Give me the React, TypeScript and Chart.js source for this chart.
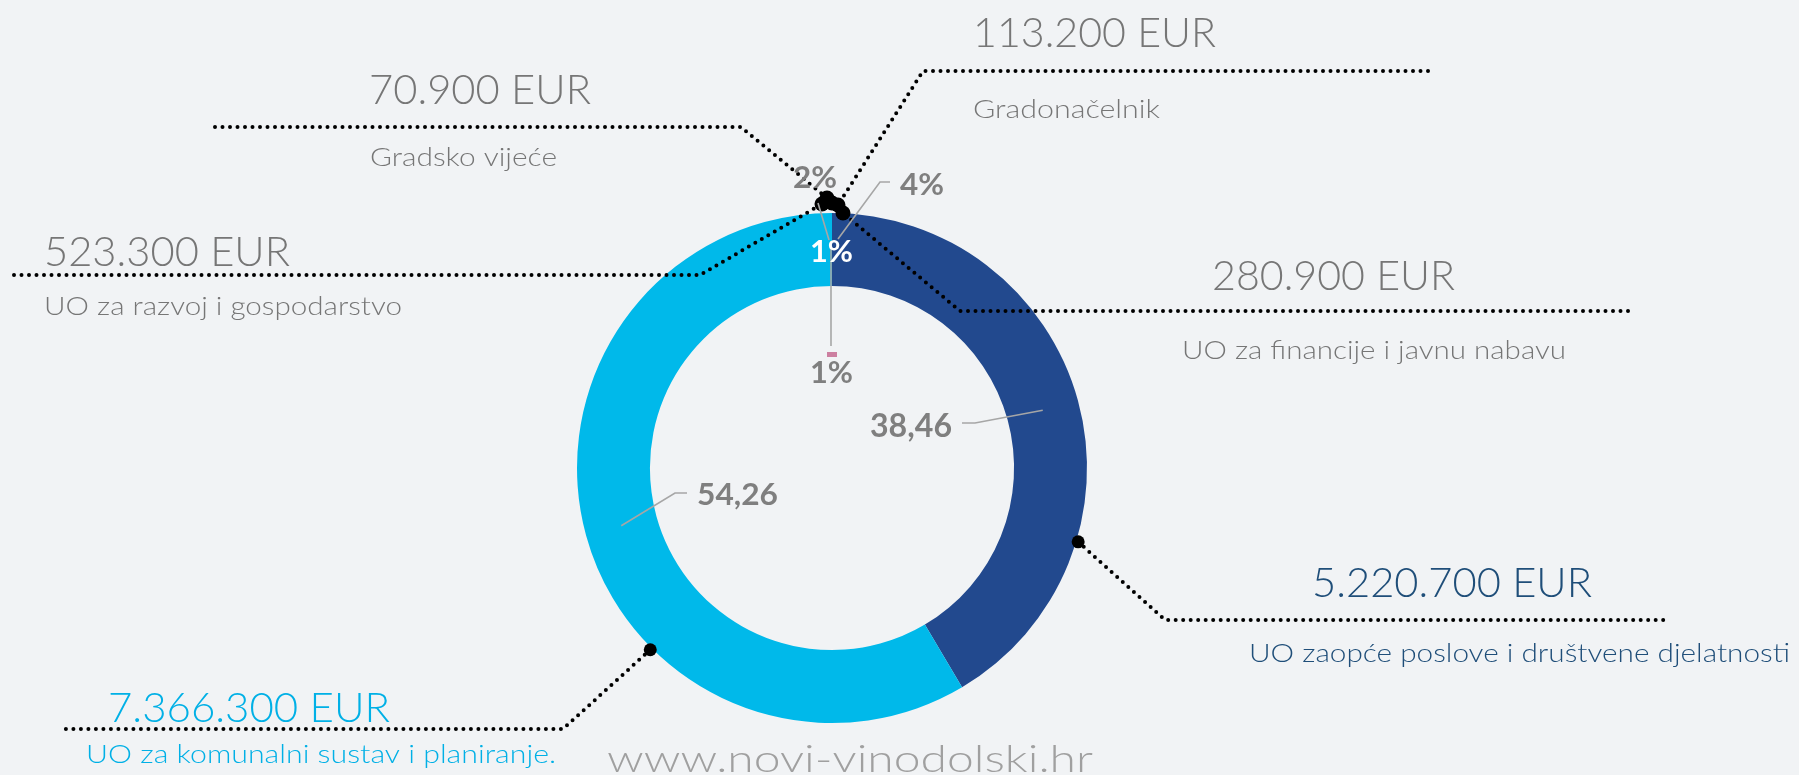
import React, { useEffect, useRef } from 'react';
import { Chart, registerables } from 'chart.js';

Chart.register(...registerables);

// ---------- data ----------
const categories = [
  'UO zaopće poslove i društvene djelatnosti',
  'UO za komunalni sustav i planiranje.',
  'UO za razvoj i gospodarstvo',
  'UO za financije i javnu nabavu',
  'Gradonačelnik',
  'Gradsko vijeće',
];
const amountLabels = [
  '5.220.700 EUR',
  '7.366.300 EUR',
  '523.300 EUR',
  '280.900 EUR',
  '113.200 EUR',
  '70.900 EUR',
];
// values plotted in the ring (the small units appear as zero-width slices at the top)
const ringValues = [38.46, 54.26, 0, 0, 0, 0];
const smallPctLabels = ['', '', '4%', '2%', '1%', '1%'];
const watermark = 'www.novi-vinodolski.hr';

// ---------- styles / layout ----------
const W = 1799;
const H = 775;
const BG = '#f1f3f5';
const sliceColors = ['#22498E', '#00B9EA', '#A5A5A5', '#FFC000', '#5B9BD5', '#CC7FA0'];
const GRAY = '#767676';
const LABEL_GRAY = '#7f7f7f';
const NAVY_TEXT = '#1F4E79';
const CYAN_TEXT = '#00B0E6';
const FONT = 'Lato, "Open Sans", sans-serif';

const RING_BOX = { left: 577, top: 213, size: 510 };

// text boxes: [x, baseline, width]
const amountBoxes = [
  [1312, 597, 280],
  [108, 722, 282],
  [44, 266, 246],
  [1212, 290, 243],
  [973, 47, 243],
  [369, 104, 222],
];
const nameBoxes = [
  [1249, 662, 541],
  [86, 763, 470],
  [44, 315, 358],
  [1182, 359, 384],
  [973, 118, 187],
  [370, 166, 187],
];
const textColors = [NAVY_TEXT, CYAN_TEXT, GRAY, GRAY, GRAY, GRAY];

function fitText(
  ctx: CanvasRenderingContext2D,
  text: string,
  x: number,
  base: number,
  width: number,
  capH: number,
  weight: number,
  color: string,
  refGlyph = 'H'
) {
  ctx.save();
  ctx.font = `${weight} 100px ${FONT}`;
  const m = ctx.measureText(refGlyph);
  const ratio = (m.actualBoundingBoxAscent || 72) / 100;
  const size = capH / ratio;
  ctx.font = `${weight} ${size}px ${FONT}`;
  const w = ctx.measureText(text).width;
  let sx = width / w;
  sx = Math.max(0.75, Math.min(1.3, sx));
  ctx.translate(x, base);
  ctx.scale(sx, 1);
  ctx.fillStyle = color;
  ctx.textBaseline = 'alphabetic';
  ctx.textAlign = 'left';
  ctx.fillText(text, 0, 0);
  ctx.restore();
}

function dotted(ctx: CanvasRenderingContext2D, pts: number[][]) {
  ctx.save();
  ctx.strokeStyle = '#000';
  ctx.lineWidth = 4;
  ctx.lineCap = 'round';
  ctx.lineJoin = 'round';
  ctx.setLineDash([0, 7.5]);
  ctx.beginPath();
  ctx.moveTo(pts[0][0], pts[0][1]);
  for (let i = 1; i < pts.length; i++) ctx.lineTo(pts[i][0], pts[i][1]);
  ctx.stroke();
  ctx.restore();
}

function dot(ctx: CanvasRenderingContext2D, x: number, y: number, r = 6.5) {
  ctx.save();
  ctx.fillStyle = '#000';
  ctx.beginPath();
  ctx.arc(x, y, r, 0, Math.PI * 2);
  ctx.fill();
  ctx.restore();
}

function leader(ctx: CanvasRenderingContext2D, pts: number[][]) {
  ctx.save();
  ctx.strokeStyle = '#a6a6a6';
  ctx.lineWidth = 1.6;
  ctx.beginPath();
  ctx.moveTo(pts[0][0], pts[0][1]);
  for (let i = 1; i < pts.length; i++) ctx.lineTo(pts[i][0], pts[i][1]);
  ctx.stroke();
  ctx.restore();
}

const annotate = {
  id: 'annotate',
  afterDatasetsDraw(chart: any) {
    const ctx: CanvasRenderingContext2D = chart.ctx;
    const meta = chart.getDatasetMeta(0);
    const a0 = meta.data[0] as any;
    const a1 = meta.data[1] as any;
    const cx = a0.x;
    const cy = a0.y;
    const R = a0.outerRadius;
    const onRing = (deg: number, rad: number) => {
      const t = (deg * Math.PI) / 180;
      return [cx + rad * Math.sin(t), cy - rad * Math.cos(t)];
    };

    // black dotted callouts
    const pBlue = onRing(106.7, R + 2);
    const pCyan = onRing(225, R + 2);
    dotted(ctx, [pBlue, [1165, 620], [1668, 620]]);
    dotted(ctx, [pCyan, [563, 729], [60, 729]]);
    const topPaths = [
      [[14, 275], [700, 275], [822, 204]],
      [[1628, 311], [960, 311], [843, 213]],
      [[1428, 71], [923, 71], [838, 205]],
      [[215, 127], [741, 127], [827, 198]],
    ];
    topPaths.forEach((p) => dotted(ctx, p));
    dot(ctx, pBlue[0], pBlue[1]);
    dot(ctx, pCyan[0], pCyan[1]);
    topPaths.forEach((p) => dot(ctx, p[p.length - 1][0], p[p.length - 1][1], 7.5));
    dot(ctx, 832, 203, 7.5);

    // grey data-label leaders
    const c0 = a0.getCenterPoint();
    const c1 = a1.getCenterPoint();
    leader(ctx, [[c1.x, c1.y], [675, 493], [687, 493]]);
    leader(ctx, [[c0.x, c0.y], [975, 423], [962, 423]]);
    leader(ctx, [[818, 203], [829, 240]]);
    leader(ctx, [[890, 182], [880, 182], [838, 239]]);
    leader(ctx, [[831, 241], [831, 346]]);

    // legend key next to lower label
    ctx.fillStyle = sliceColors[5];
    ctx.fillRect(827, 352, 10, 5);

    // data labels (ring values)
    const fmt = (v: number) => v.toFixed(2).replace('.', ',');
    fitText(ctx, fmt(ringValues[0]), 870, 437, 82, 23, 700, LABEL_GRAY);
    fitText(ctx, fmt(ringValues[1]), 697, 505, 81, 22.5, 700, LABEL_GRAY);
    // small slice labels
    fitText(ctx, smallPctLabels[2], 900, 195, 44, 22.5, 700, LABEL_GRAY);
    fitText(ctx, smallPctLabels[3], 793, 188, 44, 22.5, 700, LABEL_GRAY);
    fitText(ctx, smallPctLabels[4], 810, 262, 43, 22.5, 700, '#ffffff');
    fitText(ctx, smallPctLabels[5], 810, 383, 43, 22.5, 700, LABEL_GRAY);

    // amounts & names
    for (let i = 0; i < categories.length; i++) {
      const a = amountBoxes[i];
      fitText(ctx, amountLabels[i], a[0], a[1], a[2], 30, 300, textColors[i]);
      const n = nameBoxes[i];
      fitText(ctx, categories[i], n[0], n[1], n[2], 19, 300, textColors[i]);
    }

    // watermark
    fitText(ctx, watermark, 607, 772, 486, 28, 300, '#a0a0a0', 'l');
  },
};

export default function App() {
  const ref = useRef<HTMLCanvasElement>(null);
  useEffect(() => {
    document.body.style.margin = '0';
    document.body.style.background = BG;
    const chart = new Chart(ref.current as HTMLCanvasElement, {
      type: 'doughnut',
      data: {
        labels: categories,
        datasets: [
          {
            data: ringValues,
            backgroundColor: sliceColors,
            borderWidth: 0,
          },
        ],
      },
      options: {
        responsive: false,
        animation: false,
        events: [],
        cutout: '71.4%',
        layout: {
          padding: {
            left: RING_BOX.left,
            top: RING_BOX.top,
            right: W - RING_BOX.left - RING_BOX.size,
            bottom: H - RING_BOX.top - RING_BOX.size,
          },
        },
        plugins: {
          legend: { display: false },
          tooltip: { enabled: false },
          title: { display: false },
        },
      },
      plugins: [annotate],
    } as any);
    return () => chart.destroy();
  }, []);
  return (
    <div style={{ position: 'absolute', left: 0, top: 0, width: W, height: H, background: BG }}>
      <canvas ref={ref} width={W} height={H} style={{ display: 'block', width: W, height: H }} />
    </div>
  );
}
